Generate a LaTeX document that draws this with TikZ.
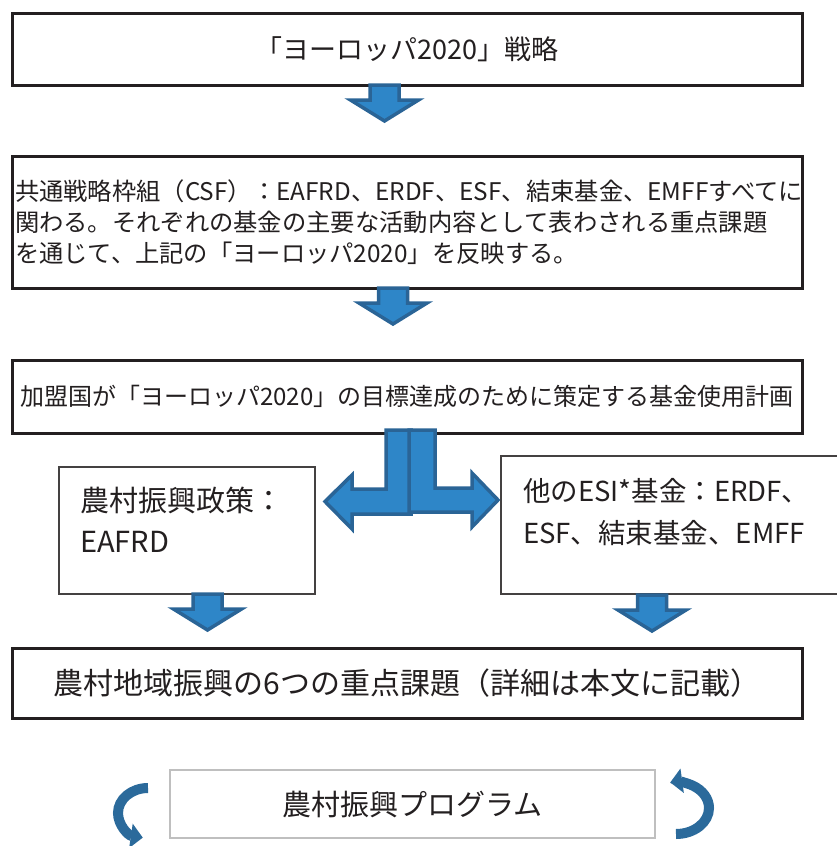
\documentclass[tikz,border=0pt]{standalone}
\usepackage{fontspec}
\setmainfont{Noto Sans CJK JP}
\usetikzlibrary{arrows.meta}
\definecolor{edge}{HTML}{231F20}
\definecolor{arrfill}{HTML}{2E86C8}
\definecolor{arrline}{HTML}{2A6496}
\definecolor{curvecol}{HTML}{2B6A9B}
\definecolor{graybox}{HTML}{BFBFBF}
\tikzset{
  box/.style={draw=edge, line width=3pt, fill=white, inner sep=0pt, text=edge},
  thinbox/.style={draw=edge!85, line width=2pt, fill=white, inner sep=0pt},
  softbox/.style={draw=graybox, line width=2pt, fill=white, inner sep=0pt, text=edge},
  lbl/.style={inner sep=0pt, text=edge, anchor=base west},
  blk/.style={draw=arrline, fill=arrfill, line width=3.5pt, line join=miter},
  curvearr/.style={draw=curvecol, line width=10pt, -{Triangle[length=12pt,width=24pt]}},
  downarr/.pic={\draw[blk] (-14.5,0) -- (14.5,0) -- (14.5,15) -- (34,15) -- (0,36) -- (-34,15) -- (-14.5,15) -- cycle;}
}
\begin{document}
\begin{tikzpicture}[x=1pt,y=-1pt]
\useasboundingbox (0,0) rectangle (837,846);
\clip (0,0) rectangle (837,846);

% boxes
\node[box, minimum width=790, minimum height=72, font=\fontsize{27}{34}\selectfont] (b1) at (407,49) {「ヨーロッパ2020」戦略};
\node[box, minimum width=790, minimum height=132, text width=784, align=left, font=\fontsize{24.3}{31}\selectfont] (b2) at (407,222)
  {共通戦略枠組（CSF）：EAFRD、ERDF、ESF、結束基金、EMFFすべてに\\関わる。それぞれの基金の主要な活動内容として表わされる重点課題\\を通じて、上記の「ヨーロッパ2020」を反映する。};
\node[box, minimum width=790, minimum height=73, font=\fontsize{24}{30}\selectfont] (b3) at (407,396.5) {加盟国が「ヨーロッパ2020」の目標達成のために策定する基金使用計画};

\node[thinbox, minimum width=256, minimum height=127] (bl) at (187,530.5) {};
\node[lbl, font=\fontsize{29}{34}\selectfont] (bla) at (80,511) {農村振興政策：};
\node[lbl, font=\fontsize{29}{34}\selectfont] (blb) at (80,552) {EAFRD};

\node[thinbox, minimum width=359, minimum height=138] (br) at (680.5,525) {};
\node[lbl, font=\fontsize{27.5}{34}\selectfont] (bra) at (523,501) {他のESI*基金：ERDF、};
\node[lbl, font=\fontsize{27.5}{34}\selectfont] (brb) at (523,543) {ESF、結束基金、EMFF};

\node[box, minimum width=790, minimum height=70, font=\fontsize{30}{36}\selectfont] (b4) at (407,683) {農村地域振興の6つの重点課題（詳細は本文に記載）};
\node[softbox, minimum width=485, minimum height=68, font=\fontsize{29}{34}\selectfont] (b5) at (412.5,804) {農村振興プログラム};

% down block arrows
\pic at (384.5,85) {downarr};
\pic at (393,288) {downarr};
\pic at (207.5,594) {downarr};
\pic at (652,595) {downarr};

% split arrow
\draw[blk] (386,430) -- (411,430) -- (411,514) -- (352,514) -- (352,529) -- (325,501.5) -- (352,475) -- (352,489) -- (386,489) -- cycle;
\draw[blk] (409,430) -- (435,430) -- (435,488) -- (472,488) -- (472,473) -- (498,500) -- (472,527) -- (472,512) -- (409,512) -- cycle;

% curved arrows
\draw[curvearr] (148,788) arc[start angle=270, end angle=100, x radius=30, y radius=25];
\draw[curvearr] (676,834) arc[start angle=90, end angle=-100, x radius=33, y radius=26];
\end{tikzpicture}
\end{document}
